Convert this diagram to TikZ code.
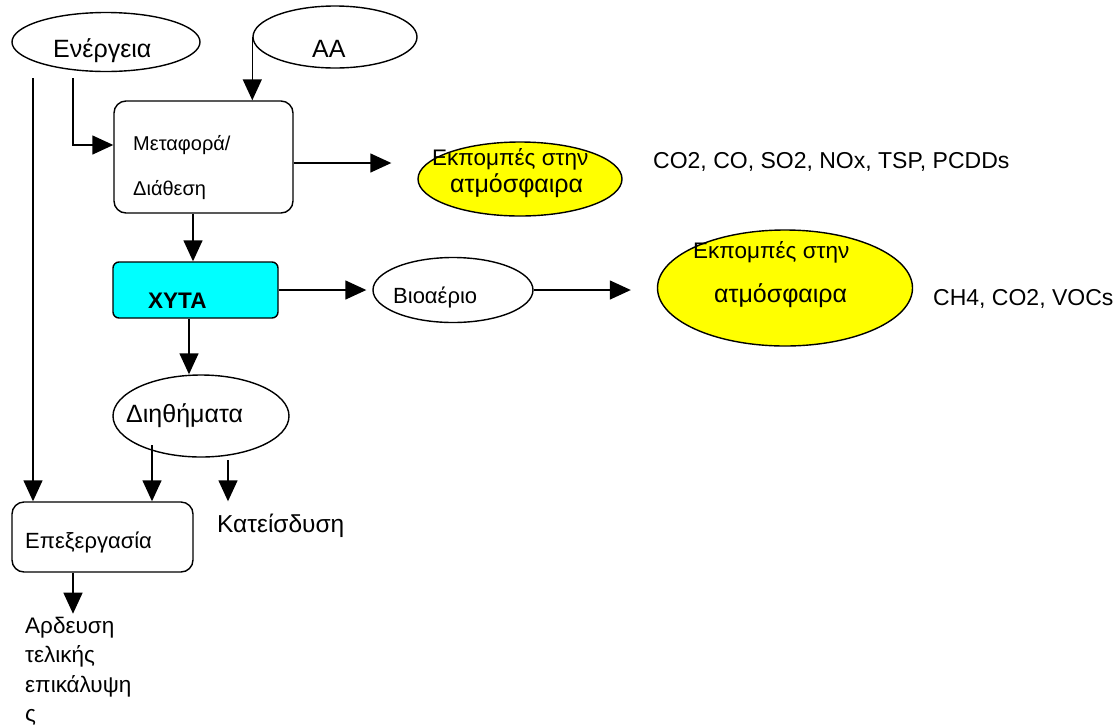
\documentclass[tikz,border=0pt]{standalone}
\usepackage{fontspec}
\setmainfont{Liberation Sans}
\usetikzlibrary{arrows.meta,shapes.geometric}

\definecolor{aqua}{RGB}{0,255,255}
\definecolor{lemon}{RGB}{255,255,0}

\tikzset{
  flow/.style={draw, line width=1.4pt, -{Triangle[length=21pt,width=19pt]}},
  oval/.style={ellipse, draw, line width=1.4pt, inner sep=0pt},
  boxed/.style={rectangle, draw, line width=1.4pt, inner sep=0pt, rounded corners=12pt},
  txt/.style={anchor=base west, inner sep=0pt},
}
\newcommand\fs[1]{\fontsize{#1}{1.2\dimexpr#1pt\relax}\selectfont}

\begin{document}
\begin{tikzpicture}[x=1pt,y=-1pt]
\useasboundingbox (0,0) rectangle (1119,724);

% shapes
\node[oval, minimum width=188pt, minimum height=59pt] (en) at (106,42) {};
\node[oval, minimum width=164pt, minimum height=62pt] (aa) at (335,37) {};
\node[boxed, minimum width=179pt, minimum height=112pt] (meta) at (203.5,157) {};
\node[oval, fill=lemon, minimum width=204pt, minimum height=74pt] (yel1) at (520,179) {};
\node[boxed, fill=aqua, rounded corners=6pt, minimum width=165pt, minimum height=56pt] (xyta) at (195.5,290) {};
\node[oval, minimum width=160pt, minimum height=65pt] (bio) at (453,290) {};
\node[oval, fill=lemon, minimum width=255pt, minimum height=116pt] (yel2) at (785,288) {};
\node[oval, minimum width=176pt, minimum height=82pt] (dih) at (201,416) {};
\node[boxed, minimum width=181pt, minimum height=70pt] (epe) at (102.5,537) {};

% labels
\node[txt, font=\fs{25}] (enT) at (53,57) {Ενέργεια};
\node[txt, font=\fs{25}] (aaT) at (312,57) {AA};
\node[txt, font=\fs{20}] (metaT1) at (133,150) {Μεταφορά/};
\node[txt, font=\fs{20}] (metaT2) at (133,195) {Διάθεση};
\node[txt, font=\fs{22.5}] (yel1T1) at (432,165) {Εκπομπές στην};
\node[txt, font=\fs{25}] (yel1T2) at (450,192) {ατμόσφαιρα};
\node[txt, font=\fs{23}] (gas1) at (653,168) {CO2, CO, SO2, NOx, TSP, PCDDs};
\node[txt, font=\fs{22.5}\bfseries] (xytaT) at (148,308) {XYTA};
\node[txt, font=\fs{22}] (bioT) at (393,303) {Βιοαέριο};
\node[txt, font=\fs{22.5}] (yel2T1) at (693,258) {Εκπομπές στην};
\node[txt, font=\fs{25}] (yel2T2) at (714,302) {ατμόσφαιρα};
\node[txt, font=\fs{23}] (gas2) at (933,305) {CH4, CO2, VOCs};
\node[txt, font=\fs{25}] (dihT) at (126,422) {Διηθήματα};
\node[txt, font=\fs{24.5}] (kat) at (217,532) {Κατείσδυση};
\node[txt, font=\fs{22}] (epeT) at (25,548) {Επεξεργασία};
\node[anchor=north west, inner sep=0pt, align=left, font=\fontsize{22.5}{29.5}\selectfont] (ard) at (25,616.5) {Αρδευση\\τελικής\\επικάλυψη\\ς};

% free ends of connectors
\coordinate (e1) at (33,78);
\coordinate (e2) at (73,78);
\coordinate (d1) at (152,445);
\coordinate (d2) at (228,460);

% connectors
\draw[flow] (e1) -- (e1 |- epe.north);
\draw[flow] (e2) |- ([yshift=12pt]meta.west);
\draw[flow] (aa.west) -- (aa.west |- meta.north);
\draw[flow, shorten >=26pt] ([yshift=-6pt]meta.east) -- ([yshift=-6pt]meta.east -| yel1.west);
\draw[flow] ([xshift=-10.5pt]meta.south) -- ([xshift=-10.5pt]meta.south |- xyta.north);
\draw[flow, shorten >=6pt] (xyta.east) -- (bio.west);
\draw[flow, shorten >=26pt] (bio.east) -- (bio.east -| yel2.west);
\draw[flow] ([xshift=-6.5pt]xyta.south) -- ([xshift=-6.5pt]xyta.south |- dih.north);
\draw[flow] (d1) -- (d1 |- epe.north);
\draw[flow] (d2) -- (d2 |- epe.north);
\draw[flow] ([xshift=-29.5pt]epe.south) -- ([xshift=-29.5pt,yshift=-41pt]epe.south);
\end{tikzpicture}
\end{document}
